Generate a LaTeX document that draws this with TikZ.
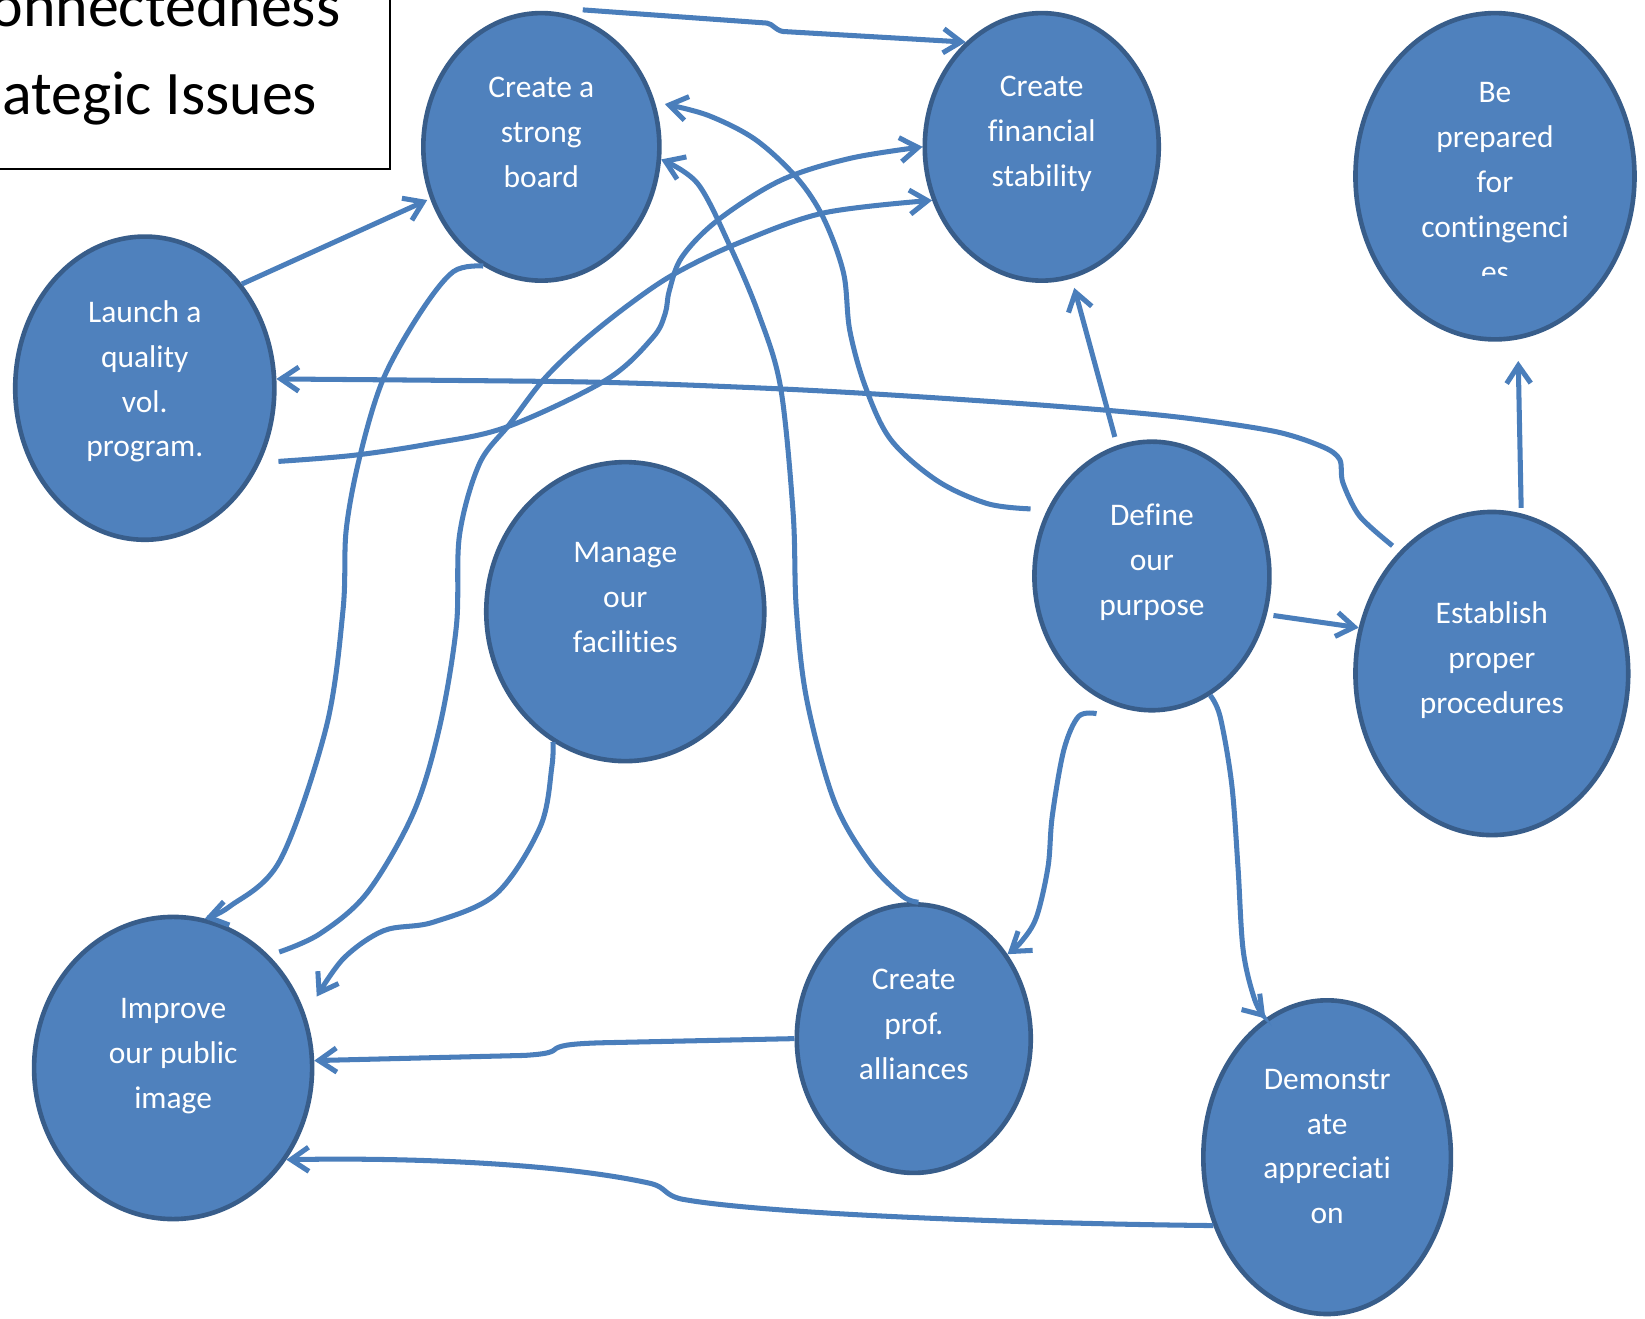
\documentclass[tikz,border=0pt]{standalone}
\usepackage{fontspec}
\setmainfont{Carlito}[Ligatures={NoCommon,NoContextual}]
\usetikzlibrary{shapes.geometric,arrows.meta}
\definecolor{efill}{HTML}{4F81BD}
\definecolor{eline}{HTML}{385D8A}
\definecolor{cline}{HTML}{4A7EBB}
\begin{document}
\begin{tikzpicture}[x=1pt,y=-1pt,
  issue/.style={ellipse, draw=eline, fill=efill, line width=4.4pt, inner sep=0pt},
  lbl/.style={text=white, font=\fontsize{30}{42.8}\selectfont, align=center, inner sep=0pt, anchor=north},
  conn/.style={draw=cline, line width=4.8pt},
  arr/.style={conn, -{Straight Barb[length=17pt,width=23pt]}},
  ttl/.style={text=black, font=\fontsize{59}{70}\selectfont, inner sep=0pt, anchor=base east}
]
\useasboundingbox (0,0) rectangle (1568,1257);

% title box (partly off the page)
\node[draw=black, line width=2pt, minimum width=430pt, minimum height=210pt, anchor=south east, inner sep=0pt] (titlebox) at (373,162) {};
\node[ttl] (title1) at (324.5,25.5) {onnectedness};
\node[ttl] (title2) at (302.5,109.6) {ategic Issues};

% issues
\node[issue, minimum width=225pt, minimum height=255pt] (board) at (516,140) {};
\node[issue, minimum width=223pt, minimum height=255pt] (finance) at (993,140) {};
\node[issue, minimum width=266pt, minimum height=311pt] (prepared) at (1425,168) {};
\node[issue, minimum width=247pt, minimum height=289pt] (launch) at (138,370) {};
\node[issue, minimum width=265pt, minimum height=285pt] (manage) at (596,583) {};
\node[issue, minimum width=224pt, minimum height=256pt] (define) at (1098,549) {};
\node[issue, minimum width=260pt, minimum height=308pt] (establish) at (1422,642) {};
\node[issue, minimum width=265pt, minimum height=288pt] (improve) at (165,1018) {};
\node[issue, minimum width=223pt, minimum height=256pt] (alliances) at (871,990) {};
\node[issue, minimum width=236pt, minimum height=299pt] (demonstrate) at (1265,1103) {};

% labels
\node[lbl] (board-t) at (516,63) {\strut Create a\\strong\\board};
\node[lbl] (finance-t) at (993,62) {\strut Create\\financial\\stability};
\begin{scope}
\clip (1290,0) rectangle (1561,263);
\node[lbl] (prepared-t) at (1425,68) {\strut Be\\prepared\\for\\contingenci\\es};
\end{scope}
\node[lbl] (launch-t) at (138,277) {\strut Launch a\\quality\\vol.\\program.};
\node[lbl] (manage-t) at (596,506) {\strut Manage\\our\\facilities};
\node[lbl] (define-t) at (1098,471) {\strut Define\\our\\purpose};
\node[lbl] (establish-t) at (1422,564) {\strut Establish\\proper\\procedures};
\node[lbl] (improve-t) at (165,941) {\strut Improve\\our public\\image};
\node[lbl] (alliances-t) at (871,913) {\strut Create\\prof.\\alliances};
\node[lbl] (demonstrate-t) at (1265,1008) {\strut Demonstr\\ate\\appreciati\\on};

% connectors
\draw[arr] ([shift={(2,-8)}]board.73) -- (731,22) .. controls (737,23) and (738,28) .. (746,30) -- (finance.126);
\draw[arr, shorten >=3pt] (launch.47) -- (board.205);
\draw[arr] plot[smooth,tension=0.55] coordinates {([shift={(13,9)}]launch.332) (337,434) (410,423) (483,407) (578,362) (622,322) (634,299) (638,277) (650,245) (684,210) (744,172) (810,151) (finance.180)};
\draw[arr] plot[smooth,tension=0.55] coordinates {([shift={(7,-6)}]improve.48) (305,890) (350,851) (394,775) (419,693) (435,597) (438,510) (457,442) (486,404) (518,362) (555,326) (600,290) (643,261) (703,232) (785,203) (finance.206)};
\draw[arr] plot[smooth,tension=0.55] coordinates {(board.244) (432,259) (400,299) (365,362) (343,435) (330,505) (327,581) (311,693) (267,820) (219,864) (improve.78)};
\draw[arr] plot[smooth,tension=0.55] coordinates {(manage.241) (526,731) (515,788) (473,852) (413,879) (366,887) (328,913) ([shift={(15,-6)}]improve.27)};
\draw[arr] plot[smooth,tension=0.55] coordinates {(alliances.88) (860,854) (828,821) (795,763) (769,667) (759,580) (756,489) (744,369) (723,299) (696,235) (665,175) (board.354)};
\draw[arr] plot[smooth,tension=0.55] coordinates {([shift={(-13,-7)}]define.151) (941,480) (893,458) (849,419) (825,369) (810,315) (804,260) (785,208) (760,170) (720,133) (675,110) ([shift={(8,-3)}]board.19)};
\draw[arr] plot[smooth,tension=0.5] coordinates {([shift={(-5,-7)}]establish.128) (1296,492) (1280,460) (1277,438) (1261,426) (1214,411) (1118,397) (991,386) (825,375) (705,369) (553,364) (launch.4)};
\draw[arr] ([shift={(-2,-8)}]define.105) -- ([shift={(2,9)}]finance.283);
\draw[arr] ([shift={(1,-5)}]establish.80) -- ([shift={(3,20)}]prepared.277);
\draw[arr] ([shift={(6,2)}]define.342) -- (establish.161);
\draw[arr] plot[smooth,tension=0.55] coordinates {([shift={(-5,13)}]define.248) (1028,683) (1014,715) (1003,778) (999,826) (988,874) (974,897) (alliances.42)};
\draw[arr] plot[smooth,tension=0.55] coordinates {(define.296) (1163,683) (1174,747) (1180,826) (1185,906) (1196,953) (demonstrate.114)};
\draw[arr] (alliances.180) -- (572,994) .. controls (540,995) and (532,997) .. (528,1001) .. controls (524,1004) and (515,1005) .. (500,1006) -- (improve.3);
\draw[arr] (demonstrate.211) .. controls (950,1166) and (720,1156) .. (650,1143) .. controls (632,1139) and (636,1132) .. (620,1128) .. controls (540,1110) and (400,1103) .. (improve.321);
\end{tikzpicture}
\end{document}
